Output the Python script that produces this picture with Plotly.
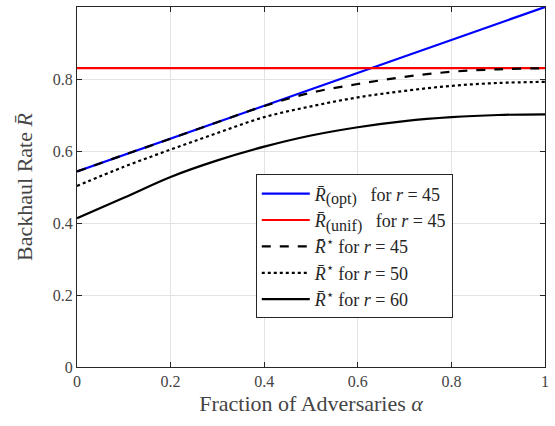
import plotly.graph_objects as go

alpha = [0.0, 0.1, 0.2, 0.3, 0.4, 0.5, 0.6, 0.7, 0.8, 0.9, 1.0]
r_opt_45 = [0.543, 1.0]
r_opt_alpha = [0.0, 1.0]
r_unif_45 = [0.830, 0.830]
r_star_45 = [0.543, 0.589, 0.634, 0.680, 0.725, 0.762, 0.786, 0.806, 0.820, 0.827, 0.830]
r_star_50 = [0.503, 0.556, 0.604, 0.650, 0.694, 0.724, 0.749, 0.767, 0.781, 0.789, 0.792]
r_star_60 = [0.413, 0.470, 0.528, 0.574, 0.612, 0.643, 0.666, 0.683, 0.694, 0.700, 0.702]

x_ticks = [0, 0.2, 0.4, 0.6, 0.8, 1]
x_ticklabels = ["0", "0.2", "0.4", "0.6", "0.8", "1"]
y_ticks = [0, 0.2, 0.4, 0.6, 0.8, 1]
y_ticklabels = ["0", "0.2", "0.4", "0.6", "0.8", "1"]

FONT = "Liberation Serif"
SUB = "<sub><span style='font-size:16px'>{}</span></sub>"

fig = go.Figure()
fig.add_trace(go.Scatter(x=r_opt_alpha, y=r_opt_45, mode="lines",
                         line=dict(color="#0000ff", width=2.2),
                         name="<i>R̄</i>" + SUB.format("(opt)") + "&nbsp;&nbsp; for <i>r</i> = 45"))
fig.add_trace(go.Scatter(x=r_opt_alpha, y=r_unif_45, mode="lines",
                         line=dict(color="#ff0000", width=2.2),
                         name="<i>R̄</i>" + SUB.format("(unif)") + "&nbsp;&nbsp; for <i>r</i> = 45"))
fig.add_trace(go.Scatter(x=alpha, y=r_star_45, mode="lines", line_shape="spline",
                         line=dict(color="black", width=2.2, dash="dash"),
                         name="<i>R̄</i><sup>⋆</sup> for <i>r</i> = 45"))
fig.add_trace(go.Scatter(x=alpha, y=r_star_50, mode="lines", line_shape="spline",
                         line=dict(color="black", width=2.2, dash="dot"),
                         name="<i>R̄</i><sup>⋆</sup> for <i>r</i> = 50"))
fig.add_trace(go.Scatter(x=alpha, y=r_star_60, mode="lines", line_shape="spline",
                         line=dict(color="black", width=2.2),
                         name="<i>R̄</i><sup>⋆</sup> for <i>r</i> = 60"))

axis_common = dict(
    showgrid=True, gridcolor="#e3e3e3", gridwidth=1,
    showline=True, linecolor="#262626", linewidth=1, mirror="ticks",
    ticks="inside", ticklen=5, tickcolor="#262626",
    tickfont=dict(family=FONT, size=16, color="#444444"),
    zeroline=False, automargin=False,
)

fig.update_layout(
    width=555, height=426,
    margin=dict(l=77, r=10, t=7, b=59),
    paper_bgcolor="white", plot_bgcolor="white",
    font=dict(family=FONT, color="#262626"),
    xaxis=dict(range=[0, 1], tickvals=x_ticks, ticktext=x_ticklabels,
               title=dict(text="Fraction of Adversaries <i>α</i>",
                          font=dict(family=FONT, size=22, color="#444444"), standoff=6),
               **axis_common),
    yaxis=dict(range=[0, 1], tickvals=y_ticks, ticktext=y_ticklabels,
               title=dict(text="Backhaul Rate <i>R̄</i>",
                          font=dict(family=FONT, size=22, color="#444444"), standoff=14),
               **axis_common),
    legend=dict(x=0.382, y=0.535, xanchor="left", yanchor="top",
                bgcolor="white", bordercolor="#262626", borderwidth=1,
                font=dict(family=FONT, size=18, color="#262626"),
                itemwidth=48, tracegroupgap=0),
    showlegend=True,
)

fig.write_html("out.html", post_script="document.body.style.margin='0';",
               config={"displayModeBar": False})
